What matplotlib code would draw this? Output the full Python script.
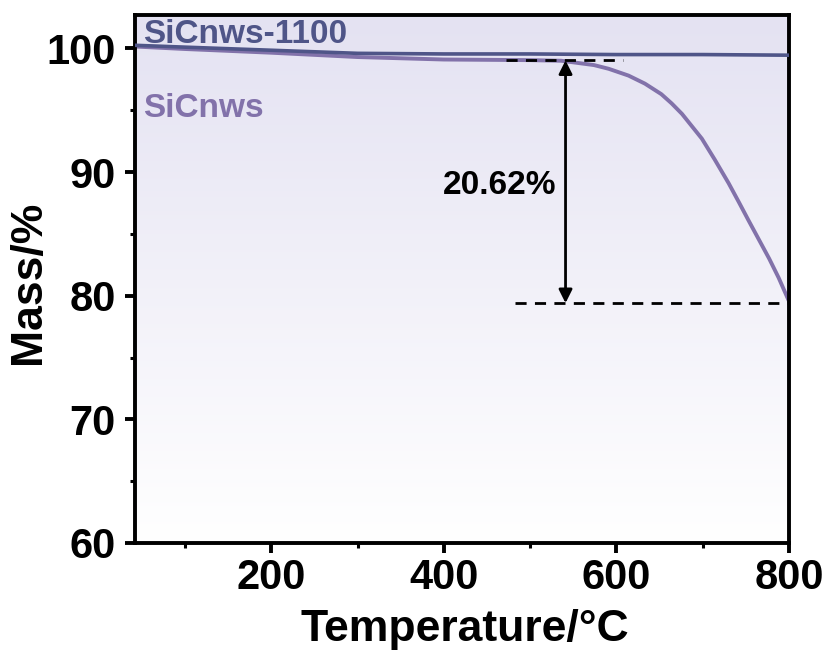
import numpy as np
import matplotlib
matplotlib.use("Agg")
import matplotlib.pyplot as plt
from matplotlib.ticker import MultipleLocator

# Data
temp_1100 = [42, 100, 200, 300, 400, 500, 600, 700, 800]
mass_1100 = [100.25, 100.1, 99.85, 99.6, 99.55, 99.55, 99.5, 99.5, 99.45]

temp_raw = [42, 100, 200, 300, 400, 500, 536, 574, 591, 614, 633, 652, 664, 676, 699, 714,
            730, 742, 753, 777, 788, 800]
mass_raw = [100.15, 99.95, 99.65, 99.3, 99.1, 99.05, 99.0, 98.65, 98.35, 97.8, 97.15, 96.3, 95.55,
            94.7, 92.7, 91.0, 89.1, 87.55, 86.1, 83.0, 81.45, 79.55]

label_1100 = "SiCnws-1100"
label_raw = "SiCnws"
loss_text = "20.62%"
loss_top = 99.03
loss_bottom = 79.4
arrow_x = 541

plt.rcParams['font.family'] = ['Liberation Sans', 'DejaVu Sans']
plt.rcParams['font.weight'] = 'bold'

fig = plt.figure(figsize=(8.31, 6.5), dpi=100)
ax = fig.add_axes([135 / 831, 107 / 650, 654 / 831, 528 / 650])

# gradient background
grad = np.linspace(0, 1, 256).reshape(-1, 1)
top = np.array([228, 226, 242]) / 255.0
bot = np.array([255, 255, 255]) / 255.0
img = top[None, None, :] * (1 - grad[:, :, None]) + bot[None, None, :] * grad[:, :, None]
ax.imshow(img, extent=[0, 1, 0, 1], transform=ax.transAxes, aspect='auto', zorder=0)

c1100 = '#4f5588'
craw = '#8272aa'
ax.plot(temp_1100, mass_1100, color=c1100, lw=2.6, zorder=3, solid_joinstyle='round')
ax.plot(temp_raw, mass_raw, color=craw, lw=2.8, zorder=2, solid_joinstyle='round')

ax.set_xlim(42, 800)
ax.set_ylim(60, 102.7)

# dashed reference lines
ax.plot([472, 608], [loss_top, loss_top], color='black', lw=2, ls=(0, (4, 3)), zorder=4)
ax.plot([483, 800], [loss_bottom, loss_bottom], color='black', lw=2, ls=(0, (4, 3)), zorder=4)
ax.annotate('', xy=(arrow_x, loss_top), xytext=(arrow_x, loss_bottom),
            arrowprops=dict(arrowstyle='<|-|>', color='black', lw=2, mutation_scale=20,
                            shrinkA=0, shrinkB=0), zorder=5)
ax.text(465, 88.2, loss_text, fontsize=24, fontweight='bold', ha='center', va='baseline', zorder=5)

ax.text(0.012, 0.947, label_1100, transform=ax.transAxes, fontsize=24, fontweight='bold',
        color=c1100, ha='left', va='baseline', zorder=6)
ax.text(0.012, 0.807, label_raw, transform=ax.transAxes, fontsize=24, fontweight='bold',
        color=craw, ha='left', va='baseline', zorder=6)

ax.xaxis.set_major_locator(MultipleLocator(200))
ax.xaxis.set_minor_locator(MultipleLocator(100))
ax.yaxis.set_major_locator(MultipleLocator(10))
ax.yaxis.set_minor_locator(MultipleLocator(5))

for s in ax.spines.values():
    s.set_linewidth(2.8)
ax.tick_params(which='major', direction='out', length=7, width=2.8, labelsize=30, pad=4)
ax.tick_params(axis='y', which='major', pad=7)
ax.tick_params(which='minor', direction='out', length=3.5, width=2.2)
for lab in ax.get_xticklabels() + ax.get_yticklabels():
    lab.set_fontweight('bold')

ax.set_xlabel('Temperature/°C', fontsize=32, fontweight='bold')
ax.set_ylabel('Mass/%', fontsize=32, fontweight='bold')
ax.xaxis.set_label_coords(0.505, -0.125)
ax.yaxis.set_label_coords(-0.131, 0.494)

fig.savefig('out.png', dpi=100)
